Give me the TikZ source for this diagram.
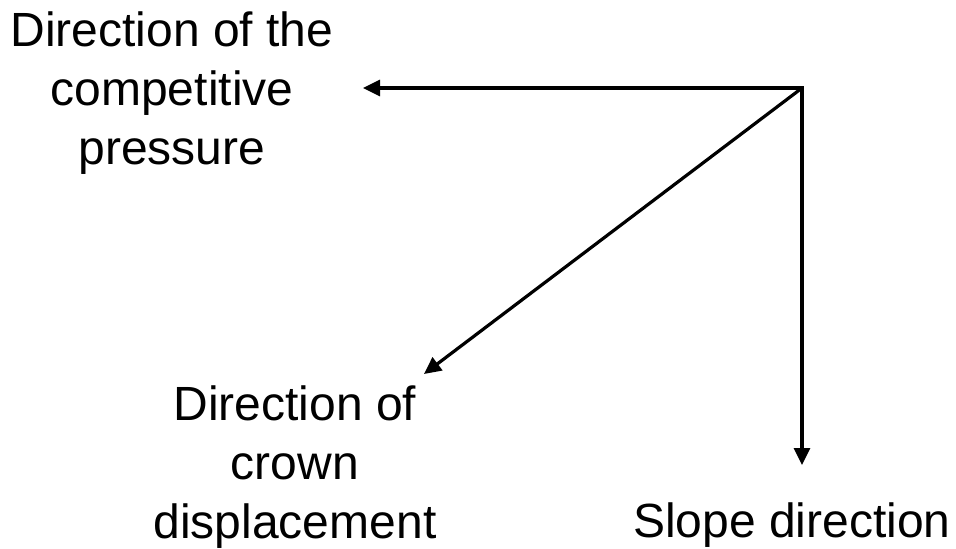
\documentclass[tikz,border=0pt]{standalone}
\usepackage{fontspec}
\setmainfont{Liberation Sans}
\usetikzlibrary{arrows.meta}

\tikzset{
  lbl/.style={align=center,inner sep=0pt,anchor=base,
    font=\fontsize{24}{29.5}\selectfont},
  dirarrow/.style={line width=1.6pt,-{Triangle[length=8.5pt,width=8pt]},
    line join=miter}
}

\begin{document}
\begin{tikzpicture}[x=.5pt,y=-.5pt]
    \useasboundingbox (0,0) rectangle (956,548);

    % the three directions all leave the same corner point
    \coordinate (corner) at (802,88);
    \coordinate (presstip) at (363,88);
    \coordinate (crowntip) at (424,374);
    \coordinate (slopetip) at (802,465);

    % base of a multi-line label is its last line
    \node[lbl] (press) at (172,164) {Direction of the\\competitive\\pressure};
    \node[lbl] (crown) at (295,538) {Direction of\\crown\\displacement};
    \node[lbl] (slope) at (792,537) {Slope direction};

    % one path for the square corner, then the diagonal
    \draw[dirarrow,{Triangle[length=8.5pt,width=8pt]}-{Triangle[length=8.5pt,width=8pt]}]
      (presstip) -- (corner) -- (slopetip);
    \draw[dirarrow] (corner) -- (crowntip);
  \end{tikzpicture}
\end{document}
